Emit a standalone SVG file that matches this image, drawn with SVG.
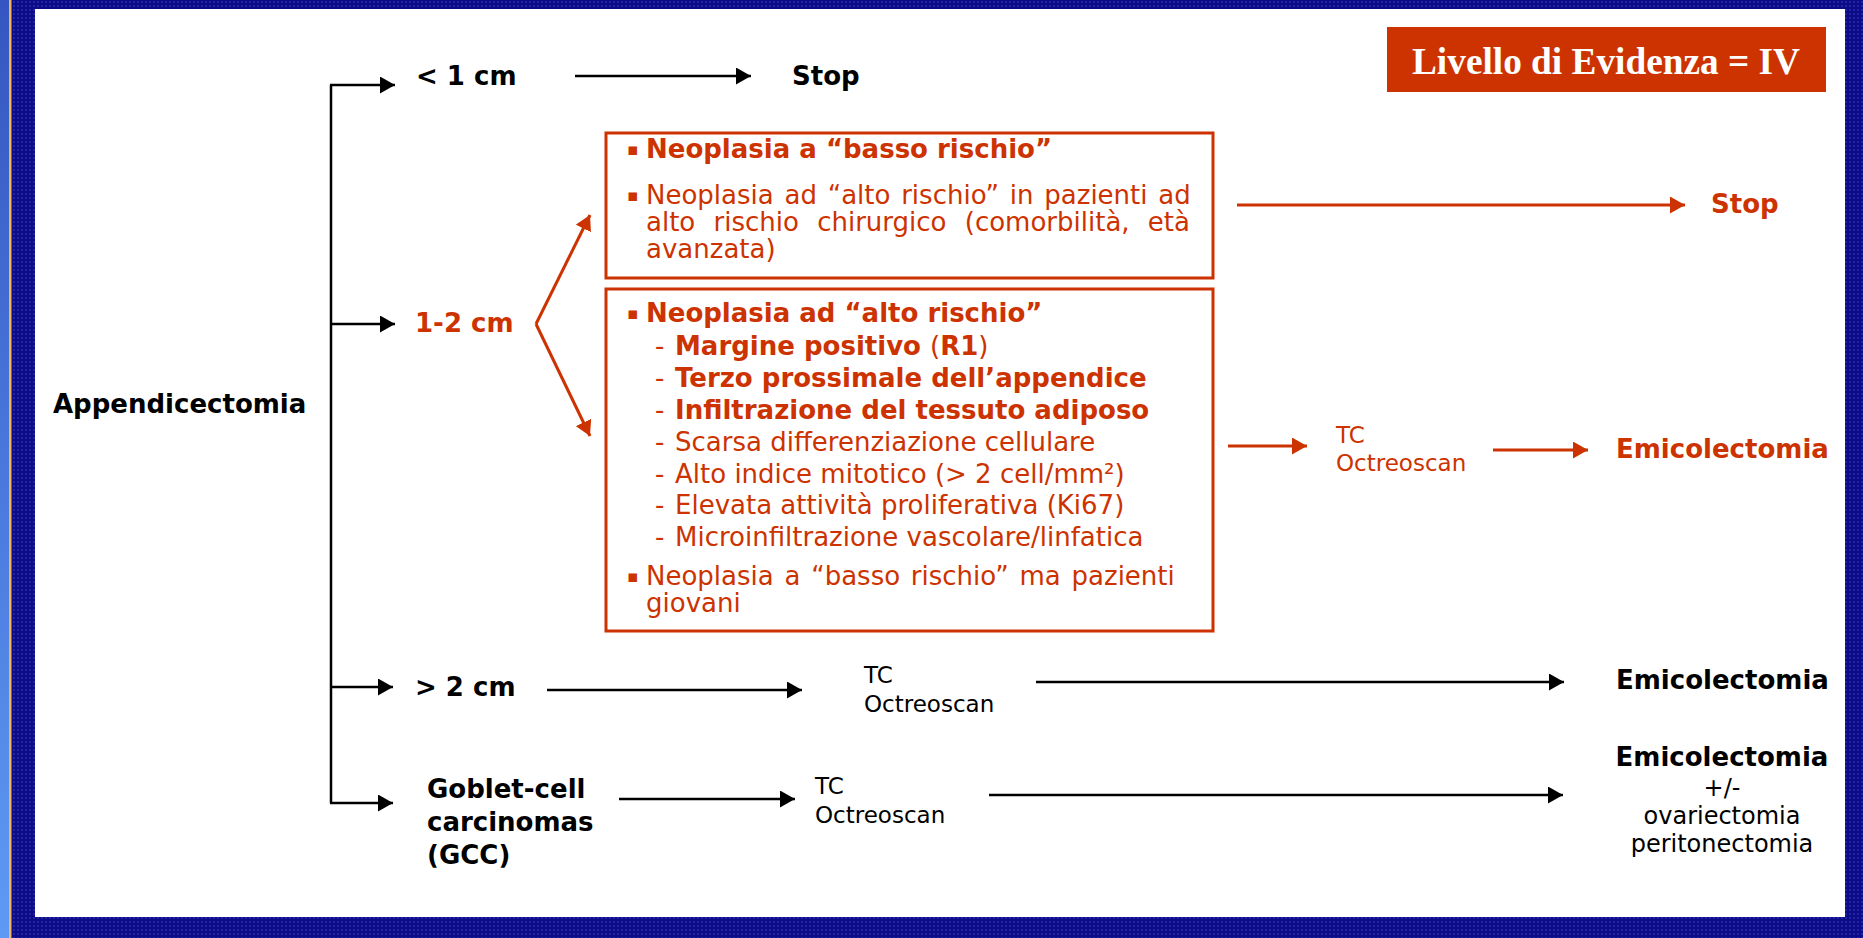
<svg xmlns="http://www.w3.org/2000/svg" width="1863" height="938" viewBox="0 0 1863 938">
<style>
.b{font-family:"DejaVu Sans",Verdana,sans-serif;font-weight:bold;font-size:26px;fill:#000}
.r{font-family:"DejaVu Sans",Verdana,sans-serif;font-size:26px;fill:#cc3300}
.rb{font-family:"DejaVu Sans",Verdana,sans-serif;font-weight:bold;font-size:26px;fill:#cc3300}
.n{font-family:"DejaVu Sans",Verdana,sans-serif;font-size:24px;fill:#000}
.s{font-family:"DejaVu Sans",Verdana,sans-serif;font-size:23px}
.bul{font-size:17px;font-weight:normal}
.bx{fill:none;stroke:#cc3300;stroke-width:3}
.kl{stroke:#000;stroke-width:2.5;fill:none}
.rl{stroke:#cc3300;stroke-width:3;fill:none}
</style>
<defs>
<pattern id="dots" width="4" height="4" patternUnits="userSpaceOnUse">
<rect width="4" height="4" fill="#0c0c86"/>
<rect x="1" y="1" width="2" height="2" fill="#2323a6"/>
</pattern>
<linearGradient id="strip" x1="0" y1="0" x2="0" y2="1">
<stop offset="0" stop-color="#3556c0"/>
<stop offset="1" stop-color="#5e9af5"/>
</linearGradient>
<marker id="ak" markerUnits="userSpaceOnUse" markerWidth="16" markerHeight="17" refX="15" refY="8.5" orient="auto">
<path d="M0,0 L15,8.5 L0,17 z" fill="#000"/>
</marker>
<marker id="ar" markerUnits="userSpaceOnUse" markerWidth="16" markerHeight="17" refX="15" refY="8.5" orient="auto">
<path d="M0,0 L15,8.5 L0,17 z" fill="#cc3300"/>
</marker>
</defs>

<rect width="1863" height="938" fill="url(#dots)"/>
<rect x="0" y="0" width="9" height="938" fill="url(#strip)"/>
<rect x="9" y="0" width="2.5" height="938" fill="#f0b45a"/>
<rect x="35" y="9" width="1810" height="908" fill="#fff"/>

<g id="evidence">
<rect x="1387" y="27" width="439" height="65" fill="#cc3300"/>
<text x="1606" y="74" text-anchor="middle" font-family="'Liberation Serif','Times New Roman',serif" font-weight="bold" font-size="38" fill="#fff" textLength="388" lengthAdjust="spacingAndGlyphs">Livello di Evidenza = IV</text>
</g>

<g id="connectors">
<path class="kl" d="M331,85 V803"/>
<path class="kl" d="M330,85 H395" marker-end="url(#ak)"/>
<path class="kl" d="M330,324 H395" marker-end="url(#ak)"/>
<path class="kl" d="M330,687 H393" marker-end="url(#ak)"/>
<path class="kl" d="M330,803 H393" marker-end="url(#ak)"/>
<path class="kl" d="M575,76 H751" marker-end="url(#ak)"/>
<path class="rl" d="M536,324 L590,215" marker-end="url(#ar)"/>
<path class="rl" d="M536,324 L590,436" marker-end="url(#ar)"/>
<path class="rl" d="M1237,205 H1685" marker-end="url(#ar)"/>
<path class="rl" d="M1228,446 H1307" marker-end="url(#ar)"/>
<path class="rl" d="M1493,450 H1588" marker-end="url(#ar)"/>
<path class="kl" d="M547,690 H802" marker-end="url(#ak)"/>
<path class="kl" d="M1036,682 H1564" marker-end="url(#ak)"/>
<path class="kl" d="M619,799 H795" marker-end="url(#ak)"/>
<path class="kl" d="M989,795 H1563" marker-end="url(#ak)"/>
</g>

<g id="appendicectomia"><text class="b" x="53" y="413">Appendicectomia</text></g>
<g id="lt1"><text class="b" x="416" y="85">&lt; 1 cm</text></g>
<g id="stop1"><text class="b" x="792" y="85">Stop</text></g>
<g id="cm12"><text class="rb" x="415" y="332">1-2 cm</text></g>

<g id="box-low">
<rect class="bx" x="606" y="133" width="607" height="145"/>
<text class="rb"><tspan class="bul" x="627" y="155">▪</tspan><tspan x="646" y="158">Neoplasia a “basso rischio”</tspan></text>
<text class="r"><tspan class="bul" x="627" y="201">▪</tspan><tspan x="646" y="204" style="word-spacing:2.5px">Neoplasia ad “alto rischio” in pazienti ad</tspan><tspan x="646" y="231" style="word-spacing:10px">alto rischio chirurgico (comorbilità, età</tspan><tspan x="646" y="258">avanzata)</tspan></text>
</g>

<g id="box-high">
<rect class="bx" x="606" y="289" width="607" height="342"/>
<text class="rb"><tspan class="bul" x="627" y="319">▪</tspan><tspan x="646" y="322">Neoplasia ad “alto rischio”</tspan></text>
<text class="r" x="655" y="355">- <tspan x="675" font-weight="bold">Margine positivo </tspan>(<tspan font-weight="bold">R1</tspan>)</text>
<text class="r" x="655" y="387">- <tspan x="675" font-weight="bold">Terzo prossimale dell’appendice</tspan></text>
<text class="r" x="655" y="419">- <tspan x="675" font-weight="bold">Infiltrazione del tessuto adiposo</tspan></text>
<text class="r" x="655" y="451">- <tspan x="675">Scarsa differenziazione cellulare</tspan></text>
<text class="r" x="655" y="483">- <tspan x="675">Alto indice mitotico (&gt; 2 cell/mm²)</tspan></text>
<text class="r" x="655" y="514">- <tspan x="675">Elevata attività proliferativa (Ki67)</tspan></text>
<text class="r" x="655" y="546">- <tspan x="675">Microinfiltrazione vascolare/linfatica</tspan></text>
<text class="r"><tspan class="bul" x="627" y="582">▪</tspan><tspan x="646" y="585" style="word-spacing:2.5px">Neoplasia a “basso rischio” ma pazienti</tspan><tspan x="646" y="612">giovani</tspan></text>
</g>

<g id="stop2"><text class="rb" x="1711" y="213">Stop</text></g>
<g id="tc-red"><text class="s" fill="#cc3300"><tspan x="1336" y="443">TC</tspan><tspan x="1336" y="471">Octreoscan</tspan></text></g>
<g id="emi-red"><text class="rb" x="1616" y="458">Emicolectomia</text></g>

<g id="gt2"><text class="b" x="415" y="696">&gt; 2 cm</text></g>
<g id="tc-2"><text class="s" fill="#000"><tspan x="864" y="683">TC</tspan><tspan x="864" y="712">Octreoscan</tspan></text></g>
<g id="emi-2"><text class="b" x="1616" y="689">Emicolectomia</text></g>

<g id="gcc"><text class="b"><tspan x="427" y="798">Goblet-cell</tspan><tspan x="427" y="831">carcinomas</tspan><tspan x="427" y="864">(GCC)</tspan></text></g>
<g id="tc-3"><text class="s" fill="#000"><tspan x="815" y="794">TC</tspan><tspan x="815" y="823">Octreoscan</tspan></text></g>
<g id="emi-3">
<text class="b" x="1722" y="766" text-anchor="middle">Emicolectomia</text>
<text class="n" text-anchor="middle"><tspan x="1722" y="796">+/-</tspan><tspan x="1722" y="824">ovariectomia</tspan><tspan x="1722" y="852">peritonectomia</tspan></text>
</g>
</svg>
